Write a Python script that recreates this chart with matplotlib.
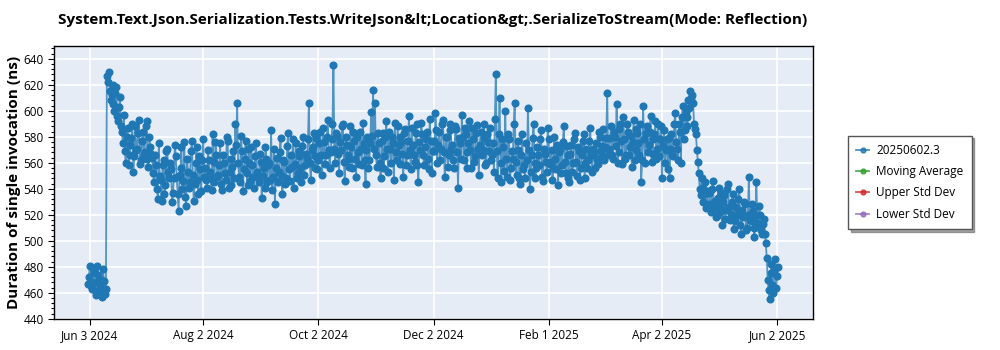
import matplotlib
matplotlib.use("Agg")
import matplotlib.pyplot as plt
from matplotlib.ticker import AutoMinorLocator, MultipleLocator
import pandas as pd

plt.rcParams['font.family'] = ['Open Sans', 'DejaVu Sans']

title = "System.Text.Json.Serialization.Tests.WriteJson&lt;Location&gt;.SerializeToStream(Mode: Reflection)"
series_name = "20250602.3"
first_day = "2024-06-02"

# first run of each day (ns)
early_jun = [467, 481, 463, 476, 458, 481, 462, 470, 478, 459]
jump = [627, 630, 608, 620, 600, 618, 592, 611]
late_jun = [584, 597, 560, 587, 566, 579, 553, 588, 571, 593, 562, 584, 568, 592, 557, 572]
july = [564, 545, 558, 532, 550, 531, 562, 543, 571, 548, 555, 537, 574, 549, 523, 556, 540, 576, 527, 553,
        545, 577, 531, 560, 547, 565, 538, 578]
august = [556, 541, 562, 548, 582, 545, 566, 551, 575, 539, 560, 547, 577, 553, 543, 569, 590, 606, 549, 581,
          538, 563, 552, 571, 546, 558, 541, 575, 550, 567]
september = [533, 556, 572, 545, 560, 585, 549, 528, 564, 553, 579, 536, 561, 548, 583, 546, 557, 541, 575, 552,
             569, 545, 580, 558, 564, 606, 547, 572, 556, 579]
october = [562, 584, 551, 576, 566, 593, 556, 578, 635, 560, 581, 552, 570, 590, 546, 574, 563, 588, 556, 577,
           549, 568, 584, 558, 575, 544, 580, 562, 599, 616]
november = [606, 557, 575, 548, 583, 565, 592, 553, 571, 580, 547, 568, 588, 559, 576, 549, 586, 566, 596, 555,
            574, 561, 590, 545, 570, 582, 558, 578, 563, 594, 552]
december = [577, 598, 560, 584, 571, 593, 549, 580, 566, 590, 574, 556, 586, 541, 575, 597, 562, 582, 568, 592,
            556, 578, 565, 589, 551, 584, 570, 579, 560, 576, 587]
january = [566, 553, 628, 548, 610, 545, 572, 600, 549, 578, 556, 563, 606, 551, 570, 544, 582, 558, 575, 602,
           540, 566, 590, 548, 572, 558, 585, 546, 567, 553, 578]
february = [561, 547, 580, 555, 543, 571, 558, 588, 552, 566, 545, 574, 560, 583, 550, 569, 556, 577, 548, 571,
            562, 587, 553, 568, 575, 559, 580, 565, 586, 572, 614]
march = [571, 588, 563, 580, 605, 568, 590, 559, 578, 566, 584, 572, 557, 593, 570, 583, 566, 545, 604, 560,
         588, 574, 596, 567, 582, 563, 590, 578, 548, 585, 570]
early_apr = [555, 548, 582, 565, 598, 571, 590, 560, 604, 585, 595, 608, 615, 612]
drop = [590, 582, 561, 540, 548, 530, 545, 528]
may = [537, 522, 546, 531, 519, 541, 527, 512, 535, 524, 544, 516, 530, 509, 526, 521, 540, 505, 518, 528,
       510, 549, 515, 523, 503, 545, 512, 520, 505]
end = [517, 498, 470, 455, 482, 460, 486, 473]

# second run of each day
early_jun_b = [472, 465, 479, 468, 461, 474, 466, 457, 469, 463]
jump_b = [622, 615, 612, 605, 614, 596, 603, 588]
late_jun_b = [575, 569, 580, 558, 574, 590, 565, 570, 583, 559, 577, 566, 588, 563, 580, 567]
july_b = [552, 566, 540, 575, 547, 558, 536, 569, 553, 560, 530, 548, 565, 536, 551, 572, 546, 534, 563, 541,
          569, 551, 544, 572, 536, 555, 562, 549]
august_b = [547, 570, 553, 539, 561, 576, 549, 558, 544, 566, 552, 580, 541, 563, 557, 548, 574, 560, 545, 569,
            555, 577, 543, 560, 572, 549, 565, 553, 545, 561]
september_b = [550, 541, 563, 558, 547, 539, 571, 556, 545, 568, 550, 562, 544, 573, 555, 566, 578, 559, 548, 565,
               556, 573, 551, 567, 578, 560, 570, 583, 565, 555]
october_b = [575, 566, 587, 559, 580, 570, 568, 590, 571, 583, 567, 576, 588, 561, 580, 566, 557, 572, 584, 563,
             580, 559, 571, 591, 562, 570, 556, 575, 581, 571]
november_b = [566, 583, 560, 577, 556, 580, 571, 584, 560, 575, 591, 562, 574, 580, 567, 583, 558, 577, 570, 587,
              566, 583, 558, 576, 591, 566, 572, 584, 555, 577, 569]
december_b = [569, 585, 574, 562, 590, 568, 580, 557, 585, 571, 562, 588, 568, 579, 563, 580, 587, 556, 575, 570,
              587, 561, 583, 571, 574, 566, 590, 558, 582, 569, 562]
january_b = [575, 594, 569, 582, 560, 578, 554, 563, 582, 547, 569, 590, 561, 577, 548, 566, 555, 548, 562, 570,
             553, 579, 560, 556, 566, 578, 549, 571, 561, 587, 559]
february_b = [570, 556, 563, 574, 568, 552, 576, 561, 573, 548, 567, 553, 578, 561, 572, 547, 566, 582, 560, 556,
              577, 566, 571, 556, 563, 584, 569, 573, 562, 579, 566]
march_b = [579, 566, 584, 573, 560, 586, 577, 595, 563, 590, 566, 581, 576, 562, 586, 575, 590, 562, 578, 583,
           568, 584, 561, 578, 592, 571, 565, 588, 573, 560, 578]
early_apr_b = [579, 571, 566, 590, 576, 562, 584, 595, 578, 599, 588, 602, 610, 606]
drop_b = [586, 570, 552, 535, 541, 536, 525, 538]
may_b = [528, 540, 525, 518, 533, 522, 537, 530, 517, 540, 526, 521, 536, 515, 520, 532, 512, 524, 530, 508,
         520, 516, 528, 510, 519, 514, 527, 508, 513]
end_b = [505, 487, 462, 475, 466, 477, 464, 480]

run_a = (early_jun + jump + late_jun + july + august + september + october + november
         + december + january + february + march + early_apr + drop + may + end)
run_b = (early_jun_b + jump_b + late_jun_b + july_b + august_b + september_b + october_b + november_b
         + december_b + january_b + february_b + march_b + early_apr_b + drop_b + may_b + end_b)

days = pd.date_range(first_day, periods=len(run_a), freq="D")
df = pd.concat([
    pd.DataFrame({"date": days, "ns": run_a}),
    pd.DataFrame({"date": days + pd.Timedelta(hours=12), "ns": run_b}),
]).sort_values("date")

tick_dates = pd.to_datetime(["2024-06-03", "2024-08-02", "2024-10-02", "2024-12-02",
                             "2025-02-01", "2025-04-02", "2025-06-02"])

fig = plt.figure(figsize=(10, 3.5), dpi=100)
ax = fig.add_axes([0.054, 0.089, 0.759, 0.78])
ax.set_facecolor("#E5ECF6")

ax.plot(df["date"], df["ns"], color="#1f77b4", lw=1.3, alpha=0.75, zorder=2)
ax.plot(df["date"], df["ns"], ls="none", marker="o", ms=4.8, color="#1f77b4", zorder=3)

# legend handles (empty series for the extra traces)
ax.plot([], [], color="#1f77b4", marker="o", ms=3.5, lw=1.3, alpha=0.8, label=series_name)
ax.plot([], [], color="#2ca02c", marker="o", ms=3.5, lw=1.3, alpha=0.8, label="Moving Average")
ax.plot([], [], color="#d62728", marker="o", ms=3.5, lw=1.3, alpha=0.8, label="Upper Std Dev")
ax.plot([], [], color="#9467bd", marker="o", ms=3.5, lw=1.3, alpha=0.8, label="Lower Std Dev")

ax.set_ylim(440, 650)
ax.set_xlim(pd.Timestamp("2024-05-15"), pd.Timestamp("2025-06-21"))
ax.yaxis.set_major_locator(MultipleLocator(20))
ax.yaxis.set_minor_locator(AutoMinorLocator(5))
ax.set_xticks(tick_dates)
ax.set_xticklabels([f"{d:%b} {d.day} {d.year}" for d in tick_dates])
ax.grid(True, color="white", lw=1.2, zorder=0)
ax.set_axisbelow(True)
ax.tick_params(labelsize=8.5, length=4, width=0.8)
ax.tick_params(which="minor", length=2, width=0.8)
for s in ax.spines.values():
    s.set_color("black")
    s.set_linewidth(1)

ax.set_ylabel("Duration of single invocation (ns)", fontsize=11, fontweight="bold")
ax.yaxis.set_label_coords(-0.043, 0.5)
fig.suptitle(title, x=0.433, y=0.963, fontsize=11, fontweight="bold")

leg = ax.legend(loc="center left", bbox_to_anchor=(1.038, 0.5), fontsize=8.5, frameon=True,
                fancybox=False, shadow=True, borderpad=0.7, labelspacing=0.7, handlelength=1.1,
                handletextpad=0.6)
leg.get_frame().set_edgecolor("#555555")
leg.get_frame().set_linewidth(1)

fig.savefig("out.png", dpi=100)
